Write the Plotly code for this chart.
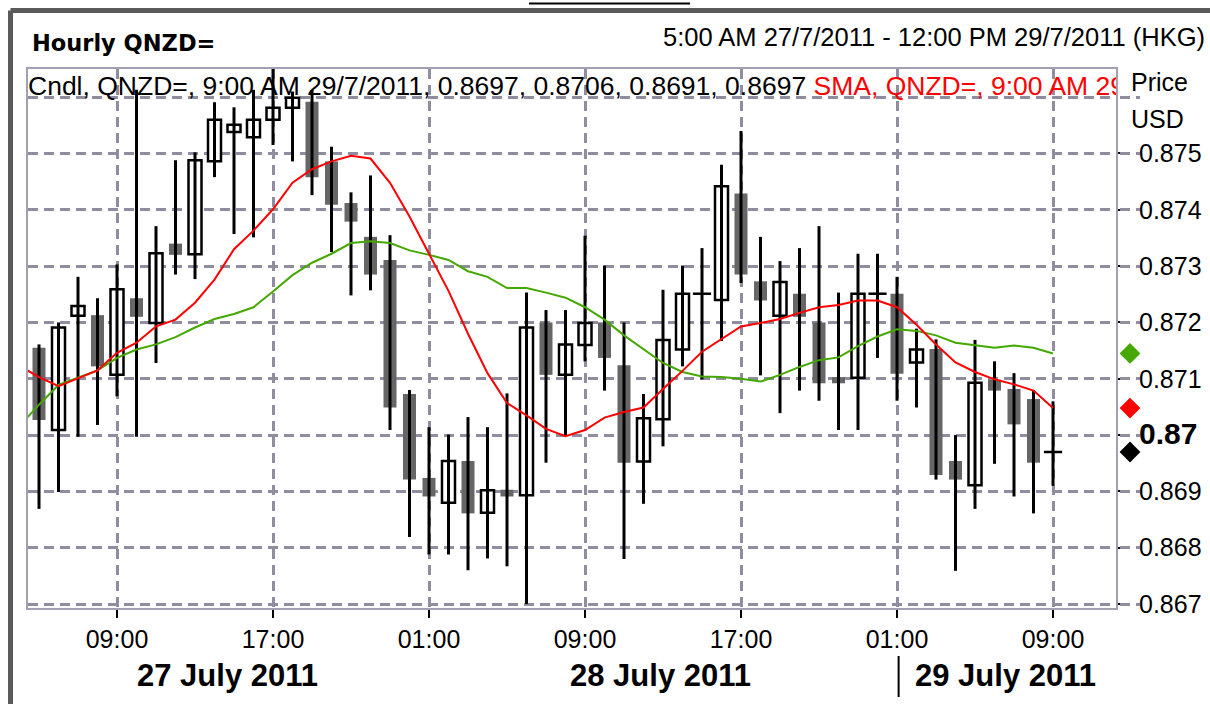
import pandas as pd
import plotly.graph_objects as go

# ---------------- data ----------------
start_time = "2011-07-27 05:00"          # first hourly candle
open_ = [0.87155, 0.87009, 0.87212, 0.87213, 0.87107, 0.87243, 0.87199, 0.87340, 0.87321, 0.87486,
         0.87538, 0.87529, 0.87560, 0.87581, 0.87592, 0.87486, 0.87412, 0.87352, 0.87311, 0.87073,
         0.86924, 0.86880, 0.86954, 0.86862, 0.86903, 0.86893, 0.87200, 0.87107, 0.87160, 0.87200,
         0.87124, 0.86953, 0.87028, 0.87152, 0.87251, 0.87240, 0.87429, 0.87273, 0.87212, 0.87251,
         0.87200, 0.87103, 0.87102, 0.87251, 0.87251, 0.87129, 0.87153, 0.86954, 0.86911, 0.87098,
         0.87082, 0.87064, 0.86970]
high = [0.87161, 0.87200, 0.87281, 0.87243, 0.87303, 0.87613, 0.87371, 0.87488, 0.87502, 0.87591,
        0.87582, 0.87613, 0.87650, 0.87610, 0.87613, 0.87512, 0.87431, 0.87461, 0.87355, 0.87080,
        0.87014, 0.87001, 0.87032, 0.87014, 0.87074, 0.87253, 0.87222, 0.87222, 0.87354, 0.87301,
        0.87200, 0.87073, 0.87258, 0.87301, 0.87332, 0.87480, 0.87540, 0.87352, 0.87309, 0.87332,
        0.87371, 0.87253, 0.87322, 0.87322, 0.87281, 0.87189, 0.87170, 0.87000, 0.87169, 0.87131,
        0.87110, 0.87080, 0.87060]
low = [0.86869, 0.86899, 0.86997, 0.87018, 0.87069, 0.86997, 0.87128, 0.87285, 0.87277, 0.87458,
       0.87357, 0.87351, 0.87515, 0.87486, 0.87426, 0.87325, 0.87248, 0.87257, 0.87009, 0.86819,
       0.86788, 0.86788, 0.86760, 0.86781, 0.86767, 0.86700, 0.86951, 0.86999, 0.87131, 0.87079,
       0.86780, 0.86878, 0.86980, 0.87122, 0.87099, 0.87167, 0.87270, 0.87106, 0.87039, 0.87079,
       0.87061, 0.87009, 0.87009, 0.87137, 0.87061, 0.87049, 0.86921, 0.86759, 0.86869, 0.86949,
       0.86891, 0.86861, 0.86910]
close = [0.87027, 0.87191, 0.87229, 0.87122, 0.87259, 0.87210, 0.87323, 0.87320, 0.87488, 0.87560,
         0.87551, 0.87560, 0.87581, 0.87599, 0.87458, 0.87409, 0.87379, 0.87285, 0.87049, 0.86921,
         0.86891, 0.86954, 0.86861, 0.86902, 0.86891, 0.87191, 0.87107, 0.87161, 0.87199, 0.87137,
         0.86951, 0.87030, 0.87169, 0.87251, 0.87251, 0.87442, 0.87285, 0.87239, 0.87272, 0.87210,
         0.87092, 0.87092, 0.87251, 0.87251, 0.87109, 0.87152, 0.86929, 0.86921, 0.87093, 0.87079,
         0.87019, 0.86951, 0.86970]

# moving averages as drawn (first point one hour before the first candle)
sma_start = "2011-07-27 04:00"
sma_red = [0.87123, 0.87103, 0.87087, 0.87101, 0.87115, 0.87146, 0.87164, 0.87193, 0.87205, 0.87235,
           0.87276, 0.87330, 0.87363, 0.87401, 0.87448, 0.87472, 0.87486, 0.87496, 0.87491, 0.87448,
           0.87388, 0.87322, 0.87256, 0.87180, 0.87110, 0.87057, 0.87035, 0.87011, 0.86998, 0.87009,
           0.87031, 0.87041, 0.87049, 0.87082, 0.87114, 0.87148, 0.87171, 0.87193, 0.87199, 0.87206,
           0.87217, 0.87227, 0.87231, 0.87239, 0.87239, 0.87227, 0.87196, 0.87161, 0.87129, 0.87112,
           0.87099, 0.87090, 0.87079, 0.87048]
sma_green = [0.87016, 0.87054, 0.87089, 0.87102, 0.87115, 0.87137, 0.87152, 0.87161, 0.87174, 0.87191,
             0.87206, 0.87215, 0.87227, 0.87255, 0.87284, 0.87306, 0.87322, 0.87341, 0.87344, 0.87341,
             0.87328, 0.87320, 0.87311, 0.87291, 0.87281, 0.87261, 0.87261, 0.87253, 0.87244, 0.87227,
             0.87205, 0.87177, 0.87152, 0.87128, 0.87112, 0.87104, 0.87103, 0.87100, 0.87095, 0.87107,
             0.87121, 0.87133, 0.87138, 0.87158, 0.87175, 0.87188, 0.87185, 0.87177, 0.87164, 0.87159,
             0.87155, 0.87159, 0.87155, 0.87145]

price_ticks = [0.867, 0.868, 0.869, 0.870, 0.871, 0.872, 0.873, 0.874, 0.875]
price_labels = ["0.867", "0.868", "0.869", "<b><span style='font-size:30px'>0.87</span></b>",
                "0.871", "0.872", "0.873", "0.874", "0.875"]
extra_grid = [0.876]
date_labels = ["27 July 2011", "28 July 2011", "29 July 2011"]
legend_black = "Cndl, QNZD=, 9:00 AM 29/7/2011, 0.8697, 0.8706, 0.8691, 0.8697"
legend_red = "SMA, QNZD=, 9:00 AM 29/7/2011, 0.8705"
header_left = "Hourly QNZD="
header_right = "5:00 AM 27/7/2011 - 12:00 PM 29/7/2011 (HKG)"

# ---------------- styling / layout helpers ----------------
GRID = "#8f8d9f"
FRAME = "#a2a0b2"
DARK = "#666666"
GREEN = "#44a800"
RED = "#ff0000"
FONT = "Liberation Sans"
X_RANGE = ["2011-07-27 04:26:09", "2011-07-29 12:13:51"]
Y_RANGE = [0.86693, 0.8765]
W, H = 1210, 704
ML, MT, MB = 28, 69, 96
PLOT_R = 1116                     # right edge of the plot frame, px


def xp(px):  # pixel -> paper x
    return (px - ML) / (W - ML)


def yp(py):  # pixel -> paper y
    return (H - MB - py) / (H - MB - MT)


t = pd.date_range(start_time, periods=len(close), freq="h")
t_sma = pd.date_range(sma_start, periods=len(sma_red), freq="h")

fig = go.Figure()

# wicks
wx, wy = [], []
for ti, h, l in zip(t, high, low):
    wx += [ti, ti, None]
    wy += [l, h, None]
fig.add_trace(go.Scatter(x=wx, y=wy, mode="lines", line=dict(color="black", width=3),
                         hoverinfo="skip"))

# bodies
up = [c > o for o, c in zip(open_, close)]
dn = [c < o for o, c in zip(open_, close)]
doji = [c == o for o, c in zip(open_, close)]
body_w = 2.4e6
for mask, fill, lw in ((up, "white", 2.5), (dn, DARK, 0)):
    xs = [ti for ti, m in zip(t, mask) if m]
    base = [min(o, c) for o, c, m in zip(open_, close, mask) if m]
    hgt = [abs(c - o) for o, c, m in zip(open_, close, mask) if m]
    fig.add_trace(go.Bar(x=xs, y=hgt, base=base, width=body_w,
                         marker=dict(color=fill, line=dict(color="black", width=lw))))
fig.add_trace(go.Scatter(x=[ti for ti, m in zip(t, doji) if m],
                         y=[c for c, m in zip(close, doji) if m], mode="markers",
                         marker=dict(symbol="line-ew", size=13, line=dict(color="black", width=2.5))))

# moving averages
fig.add_trace(go.Scatter(x=t_sma, y=sma_green, mode="lines", line=dict(color=GREEN, width=2)))
fig.add_trace(go.Scatter(x=t_sma, y=sma_red, mode="lines", line=dict(color=RED, width=2)))

# last-value diamonds, on a small side x-axis right of the plot
fig.add_trace(go.Scatter(x=[0.5] * 3, y=[sma_green[-1], sma_red[-1], close[-1]],
                         xaxis="x2", yaxis="y", mode="markers", cliponaxis=False,
                         marker=dict(symbol="diamond", size=16, color=[GREEN, RED, "black"])))

# legend line in the plot (clipped at the plot edge)
fig.add_trace(go.Scatter(x=[X_RANGE[0]], y=[0.87616], mode="text", textposition="middle right",
                         text=[legend_black + " <span style='color:#ff0000'>" + legend_red + "</span>"],
                         textfont=dict(family=FONT, size=26.5, color="black"), cliponaxis=True))

grid_common = dict(showgrid=True, gridcolor=GRID, gridwidth=3, griddash="10px,6px", zeroline=False,
                   showline=True, mirror=True, linecolor=FRAME, linewidth=2,
                   ticks="outside", tickcolor="black", tickwidth=2, ticklen=8)

fig.update_layout(
    xaxis=dict(type="date", range=X_RANGE, domain=[0, xp(PLOT_R)], tick0="2011-07-27 01:00",
               dtick=8 * 3600 * 1000, tickformat="%H:%M",
               tickfont=dict(family=FONT, size=25, color="black"), ticklabelstandoff=0,
               **grid_common),
    xaxis2=dict(domain=[xp(1120), xp(1140)], range=[0, 1], anchor="y", visible=False,
                fixedrange=True),
    yaxis=dict(side="right", range=Y_RANGE, tickmode="array", tickvals=price_ticks,
               ticktext=price_labels, tickfont=dict(family=FONT, size=25, color="black"),
               ticklabelstandoff=8,
               minor=dict(tickmode="array", tickvals=extra_grid, showgrid=True, gridcolor=GRID,
                          gridwidth=3, griddash="10px,6px", ticks=""),
               **grid_common),
)

ann = [
    dict(text="<b>" + header_left + "</b>", x=xp(30), y=yp(43), xref="paper", yref="paper",
         xanchor="left", yanchor="middle", showarrow=False,
         font=dict(family="DejaVu Sans", size=22.5, color="black")),
    dict(text=header_right, x=xp(1207), y=yp(37), xref="paper", yref="paper",
         xanchor="right", yanchor="middle", showarrow=False,
         font=dict(family=FONT, size=25.5, color="black")),
    dict(text="Price", x=xp(1129), y=yp(82), xref="paper", yref="paper", xanchor="left",
         yanchor="middle", showarrow=False, font=dict(family=FONT, size=25, color="black")),
    dict(text="USD", x=xp(1129), y=yp(119), xref="paper", yref="paper", xanchor="left",
         yanchor="middle", showarrow=False, font=dict(family=FONT, size=25, color="black")),
]
for lab, px in zip(date_labels, [227.5, 660, 1005]):
    ann.append(dict(text="<b>" + lab + "</b>", x=xp(px), y=yp(675), xref="paper", yref="paper",
                    xanchor="center", yanchor="middle", showarrow=False,
                    font=dict(family=FONT, size=31, color="black")))

shapes = [
    # outer window frame (top and left)
    dict(type="line", xref="paper", yref="paper", x0=xp(10.5), x1=xp(1215), y0=yp(10.5), y1=yp(10.5),
         line=dict(color="#5a5a5a", width=5)),
    dict(type="line", xref="paper", yref="paper", x0=xp(10.5), x1=xp(10.5), y0=yp(10.5), y1=yp(710),
         line=dict(color="#5a5a5a", width=5)),
    # underline of the cut-off caption at the very top
    dict(type="line", xref="paper", yref="paper", x0=xp(529), x1=xp(690), y0=yp(3.5), y1=yp(3.5),
         line=dict(color="black", width=2)),
    # day separator
    dict(type="line", xref="x", yref="paper", x0="2011-07-29 01:05", x1="2011-07-29 01:05",
         y0=yp(656), y1=yp(697), line=dict(color="black", width=2)),
]

fig.update_layout(width=W, height=H, margin=dict(l=ML, r=0, t=MT, b=MB),
                  paper_bgcolor="white", plot_bgcolor="white", showlegend=False,
                  barmode="overlay", annotations=ann, shapes=shapes, hovermode=False)

fig.write_html("out.html", config={"displayModeBar": False},
               post_script="document.body.style.margin='0';document.body.style.overflow='hidden';")
